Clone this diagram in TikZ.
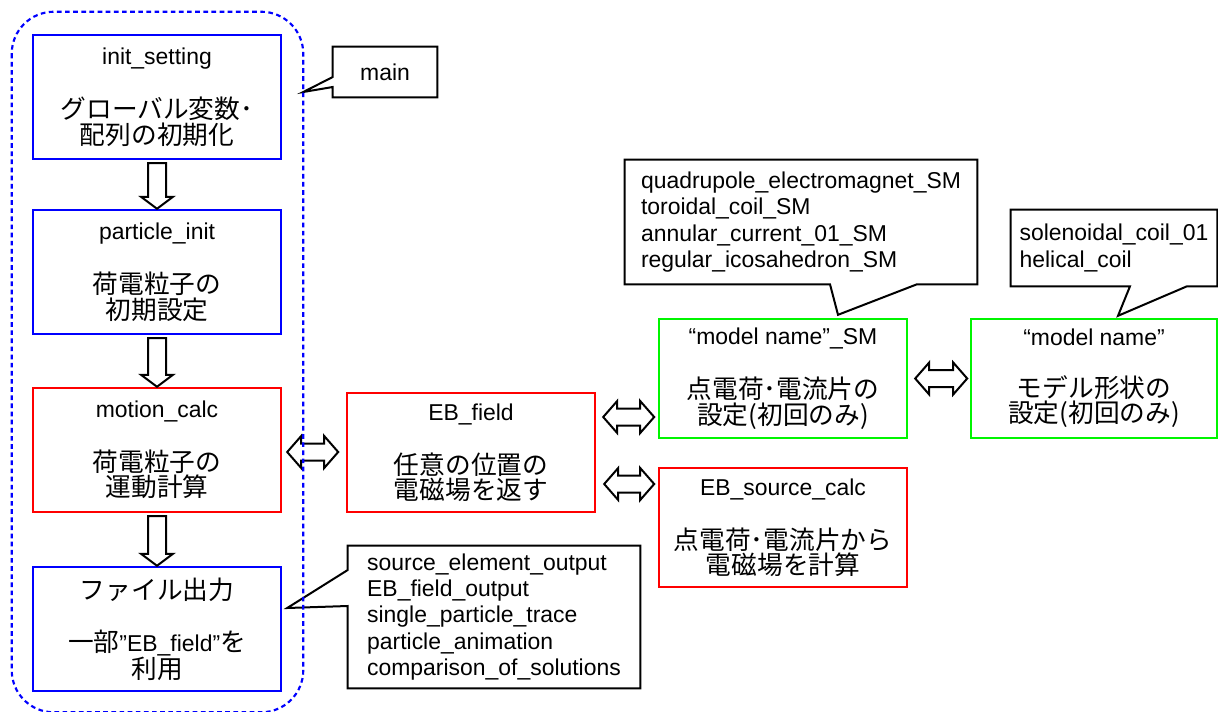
\documentclass[tikz,border=0pt]{standalone}
\usepackage{fontspec}
\setmainfont{Liberation Sans}
\newfontfamily\jp{Noto Sans CJK JP}[Scale=1.12]
\usetikzlibrary{calc}
\definecolor{boxblue}{RGB}{0,0,255}
\definecolor{boxred}{RGB}{255,0,0}
\definecolor{boxgreen}{RGB}{0,245,0}
\newcommand\dnblk[2]{\draw[blk] ($(#1.south)+(-9,3)$) -- ($(#2.north)+(-9,-12)$) -- ($(#2.north)+(-16,-12)$) -- (#2.north) -- ($(#2.north)+(16,-12)$) -- ($(#2.north)+(9,-12)$) -- ($(#1.south)+(9,3)$) -- cycle;}
\newcommand\dblblk[2]{\draw[blk] #1 -- ++(14,-16) -- ++(0,7.5) -- ++({#2-28},0) -- ++(0,-7.5) -- ++(14,16) -- ++(-14,16) -- ++(0,-7.5) -- ++({-(#2-28)},0) -- ++(0,7.5) -- cycle;}
\begin{document}
\begin{tikzpicture}[x=0.75pt,y=-0.75pt,
  boxtxt/.style={font=\fontsize{17.2}{19}\selectfont, align=center, inner sep=0pt},
  procbox/.style={boxtxt, draw, line width=1.8pt, minimum width=186pt, minimum height=93pt},
  bluebox/.style={procbox, draw=boxblue},
  redbox/.style={procbox, draw=boxred},
  greenbox/.style={procbox, draw=boxgreen, minimum height=89.25pt},
  listtxt/.style={font=\fontsize{17.2}{19.7}\selectfont, align=left, inner sep=0pt},
  calloutline/.style={draw=black, line width=1.5pt, line join=miter},
  blk/.style={draw=black, fill=white, line width=1.5pt, line join=miter},
  maindash/.style={draw=boxblue, line width=1.6pt, dash pattern=on 3.5pt off 2.6pt, rounded corners=31.5pt}
]
\useasboundingbox (0,0) rectangle (1218,711);

% container (outline drawn at the end)
\node[minimum width=218.25pt, minimum height=525pt, inner sep=0pt] (mainbox) at (157.5,362) {};

% process boxes
\node[bluebox] (init) at (157,97) {init\_setting\\[20pt]{\jp グローバル変数･}\\{\jp 配列の初期化}};
\node[bluebox] (pinit) at (157,272) {particle\_init\\[20pt]{\jp 荷電粒子の}\\{\jp 初期設定}};
\node[redbox] (motion) at (157,450) {motion\_calc\\[20pt]{\jp 荷電粒子の}\\{\jp 運動計算}};
\node[bluebox] (fileout) at (157,629) {{\jp ファイル出力}\\[20pt]{\jp 一部}”EB\_field”{\jp を}\\{\jp 利用}};
\node[redbox, minimum height=89.25pt] (EB) at (471,452.5) {EB\_field\\[20pt]{\jp 任意の位置の}\\{\jp 電磁場を返す}};
\node[greenbox] (SM) at (783,378.5) {“model name”\_SM\\[20pt]{\jp 点電荷･電流片の}\\{\jp 設定(初回のみ)}};
\node[greenbox, minimum width=184.5pt] (model) at (1094,378.5) {“model name”\\[20pt]{\jp モデル形状の}\\{\jp 設定(初回のみ)}};
\node[redbox, minimum height=89.25pt] (source) at (783,527.5) {EB\_source\_calc\\[20pt]{\jp 点電荷･電流片から}\\{\jp 電磁場を計算}};

% block arrows
\dnblk{init}{pinit}
\dnblk{pinit}{motion}
\dnblk{motion}{fileout}
\dblblk{($(motion.east)+(5,2)$)}{51}
\dblblk{($(EB.east)+(7,-35.5)$)}{51}
\dblblk{($(EB.east)+(8,31.5)$)}{50}
\dblblk{($(SM.east)+(7,0)$)}{52}

% callouts
\node[listtxt, minimum width=78pt, minimum height=37.5pt] (mainc) at (385,72) {main};
\coordinate (maintip) at ($(mainbox.east)+(0,-270)$);
\draw[calloutline] (mainc.north west) -- (mainc.north east) -- (mainc.south east) -- (mainc.south west)
  -- ($(mainc.west)+(0,15)$) -- (maintip) -- ($(mainc.west)+(0,5)$) -- cycle;

\node[listtxt, minimum width=219pt, minimum height=106.5pt] (outc) at (494,617)
  {source\_element\_output\\EB\_field\_output\\single\_particle\_trace\\particle\_animation\\comparison\_of\_solutions};
\coordinate (outtip) at ($(fileout.east)+(5,-21)$);
\draw[calloutline] (outc.north west) -- (outc.north east) -- (outc.south east) -- (outc.south west)
  -- ($(outc.west)+(0,-11)$) -- (outtip) -- ($(outc.west)+(0,-47)$) -- cycle;

\node[listtxt, minimum width=264pt, minimum height=93pt] (smc) at (801,222)
  {quadrupole\_electromagnet\_SM\\toroidal\_coil\_SM\\annular\_current\_01\_SM\\regular\_icosahedron\_SM};
\coordinate (smtip) at ($(SM.north)+(55,-3)$);
\draw[calloutline] (smc.north west) -- (smc.north east) -- (smc.south east)
  -- ($(smc.south)+(116,0)$) -- (smtip) -- ($(smc.south)+(29,0)$) -- (smc.south west) -- cycle;

\node[listtxt, minimum width=154.5pt, minimum height=57pt] (coilc) at (1114,248)
  {solenoidal\_coil\_01\\helical\_coil};
\coordinate (coiltip) at ($(model.north)+(24,-2)$);
\draw[calloutline] (coilc.north west) -- (coilc.north east) -- (coilc.south east)
  -- ($(coilc.south)+(73,0)$) -- (coiltip) -- ($(coilc.south)+(16,0)$) -- (coilc.south west) -- cycle;

% dashed container outline
\draw[maindash] (mainbox.north west) rectangle (mainbox.south east);
\end{tikzpicture}
\end{document}
